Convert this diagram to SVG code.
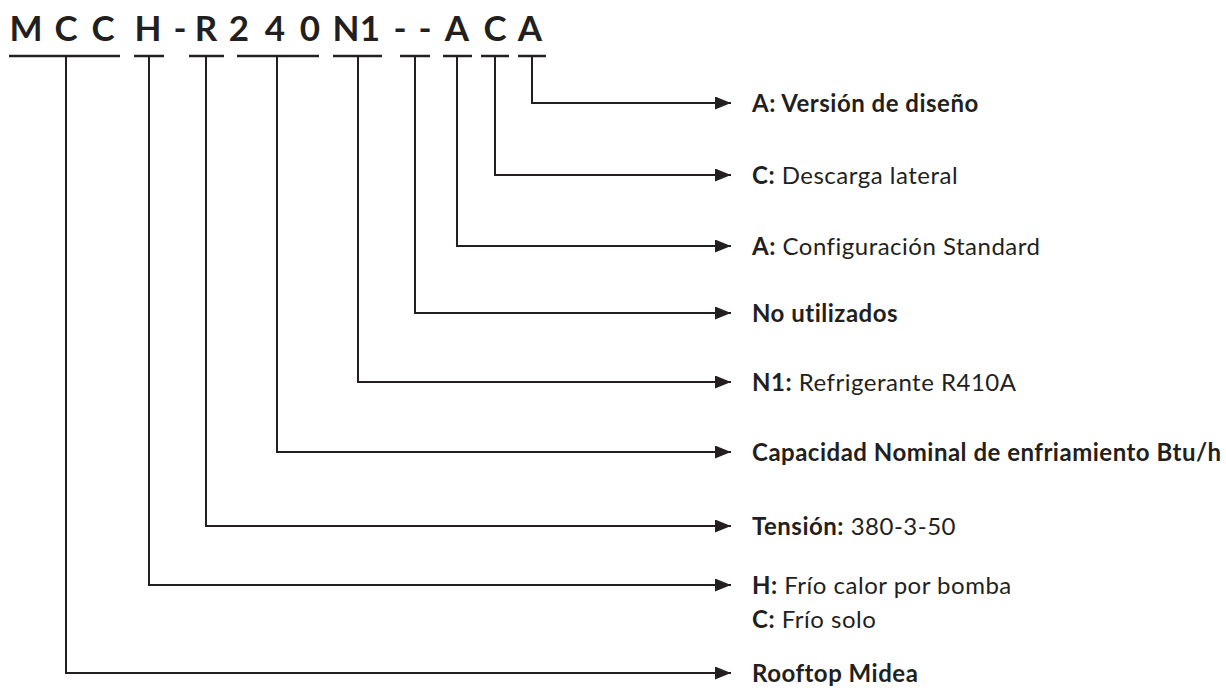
<svg xmlns="http://www.w3.org/2000/svg" width="1226" height="688" viewBox="0 0 1226 688">
<style>
.code{font-family:Lato,"Liberation Sans",sans-serif;font-weight:700;font-size:35px;fill:#231f20;text-anchor:middle}
.lbl{font-family:Lato,"Liberation Sans",sans-serif;font-size:24px;letter-spacing:0.5px;fill:#231f20}
.b{font-weight:700}
.ul{stroke:#231f20;stroke-width:2.6;fill:none}
.cn{stroke:#231f20;stroke-width:2;fill:none;marker-end:url(#ah)}
</style>
<defs>
<marker id="ah" markerUnits="userSpaceOnUse" markerWidth="16" markerHeight="13" refX="16" refY="6.5" orient="auto">
<path d="M0,0 L16,6.5 L0,13 Z" fill="#231f20"/>
</marker>
</defs>
<rect width="1226" height="688" fill="#ffffff"/>
<g id="code">
<text class="code" y="41"><tspan x="26">M</tspan><tspan x="66">C</tspan><tspan x="103">C</tspan><tspan x="148">H</tspan><tspan x="180">-</tspan><tspan x="206">R</tspan><tspan x="239">2</tspan><tspan x="275">4</tspan><tspan x="310">0</tspan><tspan x="346">N</tspan><tspan x="370">1</tspan><tspan x="400">-</tspan><tspan x="425">-</tspan><tspan x="457">A</tspan><tspan x="495">C</tspan><tspan x="530">A</tspan></text>
<path class="ul" d="M9,56H120 M134,56H164 M189,56H224 M237,56H319 M333,56H382 M400,56H430 M443,56H472 M481,56H509 M518,56H546"/>
</g>
<g id="connectors">
<path class="cn" d="M532,56V103H731"/>
<path class="cn" d="M495,56V175H731"/>
<path class="cn" d="M457,56V246H731"/>
<path class="cn" d="M415,56V313H731"/>
<path class="cn" d="M358,56V382H731"/>
<path class="cn" d="M277,56V452H731"/>
<path class="cn" d="M206,56V526H731"/>
<path class="cn" d="M149,56V585H731"/>
<path class="cn" d="M66,56V673H731"/>
</g>
<g id="n-version"><text class="lbl b" x="752" y="111.5">A: Versión de diseño</text></g>
<g id="n-descarga"><text class="lbl" x="752" y="183.5"><tspan class="b">C:</tspan> Descarga lateral</text></g>
<g id="n-config"><text class="lbl" x="752" y="254.5"><tspan class="b">A:</tspan> Configuración Standard</text></g>
<g id="n-nousados"><text class="lbl b" x="752" y="321.5">No utilizados</text></g>
<g id="n-refrig"><text class="lbl" x="752" y="390.5"><tspan class="b">N1:</tspan> Refrigerante R410A</text></g>
<g id="n-capacidad"><text class="lbl b" x="752" y="460.5">Capacidad Nominal de enfriamiento Btu/h</text></g>
<g id="n-tension"><text class="lbl" x="752" y="534.5"><tspan class="b">Tensión:</tspan> 380-3-50</text></g>
<g id="n-modo"><text class="lbl" x="752" y="593.5"><tspan class="b">H:</tspan> Frío calor por bomba</text><text class="lbl" x="752" y="627.5"><tspan class="b">C:</tspan> Frío solo</text></g>
<g id="n-rooftop"><text class="lbl b" x="752" y="681.5">Rooftop Midea</text></g>
</svg>
